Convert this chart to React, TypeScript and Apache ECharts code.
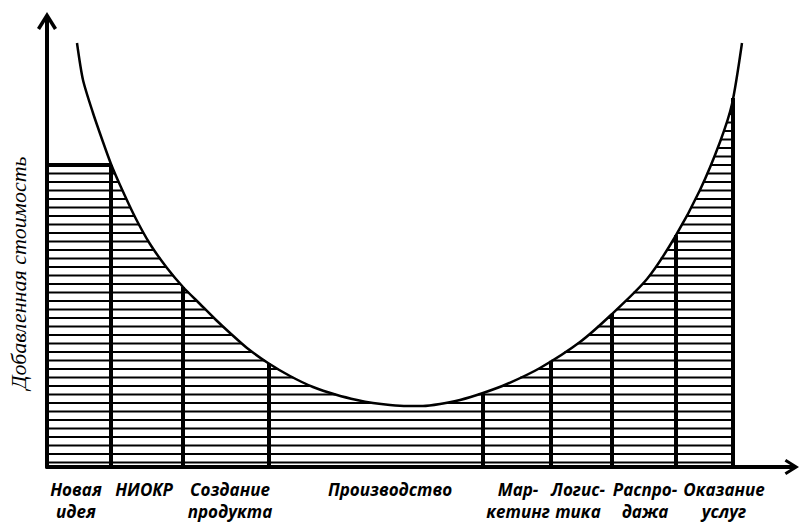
import React, { useEffect, useRef } from "react";
import * as echarts from "echarts";

// Stage labels along the value chain
const stages = [
  "Новая\nидея",
  "НИОКР",
  "Создание\nпродукта",
  "Производство",
  "Мар-\nкетинг",
  "Логис-\nтика",
  "Распро-\nдажа",
  "Оказание\nуслуг",
];
// Where each stage label sits along the horizontal axis (axis units)
const stageLabelAt = [29, 97, 183, 343, 471, 531, 598, 677];
// Stage boundaries along the horizontal axis (axis units)
const stageBounds = [0, 64, 136, 222, 436, 504, 565, 629, 686];
// Smile curve (axis units)
const curveX = [30, 36, 46, 56, 64, 73, 88, 103, 120, 136, 153, 168, 183, 200, 221, 243, 266, 290, 310, 326, 343, 360, 376, 393, 413, 436, 460, 493, 533, 565, 600, 628, 653, 673, 685, 695];
const curveY = [424, 387, 354, 325, 303, 282, 250, 223, 199, 180, 163, 148, 134, 119, 104, 91, 80, 72, 67, 64, 62, 61, 61, 63, 67, 74, 83, 99, 125, 153, 188, 230, 277, 325, 363, 424];
// Level of the flat cap over the first stage
const capValue = 302;
const yAxisTitle = "Добавленная стоимость";
const xMax = 744;
const yMax = 445;

const HATCH_STEP = 8.5;
const ARROW = "path://M10,0 L20,16 L17,18 L12,10 L12,20 L8,20 L8,10 L3,18 L0,16 Z";
const LABEL_FONT = 'italic bold 17px "Open Sans"';

const minY = Math.min(...curveY);
const minIdx = curveY.indexOf(minY);

function curveAt(x: number): number {
  if (x <= curveX[0]) return curveY[0];
  for (let i = 0; i < curveX.length - 1; i++) {
    if (x >= curveX[i] && x <= curveX[i + 1]) {
      const t = (x - curveX[i]) / (curveX[i + 1] - curveX[i]);
      return curveY[i] + t * (curveY[i + 1] - curveY[i]);
    }
  }
  return curveY[curveY.length - 1];
}
function crossLeft(h: number): number {
  for (let i = 0; i < minIdx; i++) {
    const y0 = curveY[i], y1 = curveY[i + 1];
    if (y0 >= h && h >= y1) return curveX[i] + ((y0 - h) / (y0 - y1 || 1)) * (curveX[i + 1] - curveX[i]);
  }
  return curveX[0];
}
function crossRight(h: number): number {
  for (let i = minIdx; i < curveY.length - 1; i++) {
    const y0 = curveY[i], y1 = curveY[i + 1];
    if (y0 <= h && h <= y1) return curveX[i] + ((h - y0) / (y1 - y0 || 1)) * (curveX[i + 1] - curveX[i]);
  }
  return curveX[curveX.length - 1];
}

export default function App() {
  const ref = useRef<HTMLDivElement>(null);
  useEffect(() => {
    if (!ref.current) return;
    const chart = echarts.init(ref.current, null, { renderer: "svg" });
    const rightEnd = stageBounds[stageBounds.length - 1];
    const rightTop = curveAt(rightEnd);
    const option: any = {
      animation: false,
      backgroundColor: "#fff",
      grid: { left: 47, right: 8, top: 22, bottom: 56, containLabel: false, outerBoundsMode: "none" },
      xAxis: {
        type: "value",
        min: 0,
        max: xMax,
        axisLine: { show: true, symbol: ["none", ARROW], symbolSize: [22, 16], lineStyle: { color: "#000", width: 4 } },
        axisTick: { show: false },
        axisLabel: { show: false },
        splitLine: { show: false },
      },
      yAxis: {
        type: "value",
        min: 0,
        max: yMax,
        name: yAxisTitle,
        nameLocation: "middle",
        nameRotate: 90,
        nameGap: 18,
        nameTextStyle: {
          fontFamily: '"Liberation Serif"',
          fontStyle: "italic",
          fontSize: 22,
          color: "#000",
          padding: [0, 57, 0, 0],
        },
        axisLine: { show: true, symbol: ["none", ARROW], symbolSize: [20, 20], lineStyle: { color: "#000", width: 4 } },
        axisTick: { show: false },
        axisLabel: { show: false },
        splitLine: { show: false },
      },
      series: [
        {
          type: "custom",
          data: [0],
          z: 2,
          silent: true,
          renderItem: (_params: any, api: any) => {
            const children: any[] = [];
            const seg = (x1: number, y1: number, x2: number, y2: number, w: number) => {
              const a = api.coord([x1, y1]);
              const b = api.coord([x2, y2]);
              children.push({
                type: "line",
                shape: { x1: a[0], y1: a[1], x2: b[0], y2: b[1] },
                style: { stroke: "#000", lineWidth: w },
              });
            };
            // hatching below the cap
            for (let k = 1; capValue - k * HATCH_STEP > 0; k++) {
              const h = capValue - k * HATCH_STEP;
              if (h <= minY) {
                seg(0, h, rightEnd, h, 2);
              } else {
                seg(0, h, crossLeft(h), h, 2);
                const xr = crossRight(h);
                if (xr < rightEnd) seg(xr, h, rightEnd, h, 2);
              }
            }
            // hatching above the cap (right side only)
            for (let k = 0; capValue + k * HATCH_STEP < rightTop; k++) {
              const h = capValue + k * HATCH_STEP;
              const xr = crossRight(h);
              if (xr < rightEnd) seg(xr, h, rightEnd, h, 2);
            }
            // cap over first stage
            seg(0, capValue, stageBounds[1], capValue, 4);
            // stage boundaries
            for (let i = 1; i < stageBounds.length; i++) {
              const b = stageBounds[i];
              const top = i === 1 ? Math.min(capValue, curveAt(b)) : curveAt(b);
              seg(b, 0, b, top, 4);
            }
            // stage labels
            for (let i = 0; i < stages.length; i++) {
              const p = api.coord([stageLabelAt[i], 0]);
              children.push({
                type: "text",
                x: p[0],
                y: p[1] + 11,
                style: {
                  text: stages[i],
                  font: LABEL_FONT,
                  fill: "#000",
                  align: "center",
                  verticalAlign: "top",
                  lineHeight: 22,
                },
              });
            }
            return { type: "group", children };
          },
        },
        {
          type: "line",
          data: curveX.map((x, i) => [x, curveY[i]]),
          smooth: 0.25,
          symbol: "none",
          z: 3,
          silent: true,
          lineStyle: { color: "#000", width: 2.5 },
        },
      ],
    };
    chart.setOption(option);
    return () => chart.dispose();
  }, []);
  return <div ref={ref} style={{ position: "fixed", left: 0, top: 0, width: 799, height: 523 }} />;
}
